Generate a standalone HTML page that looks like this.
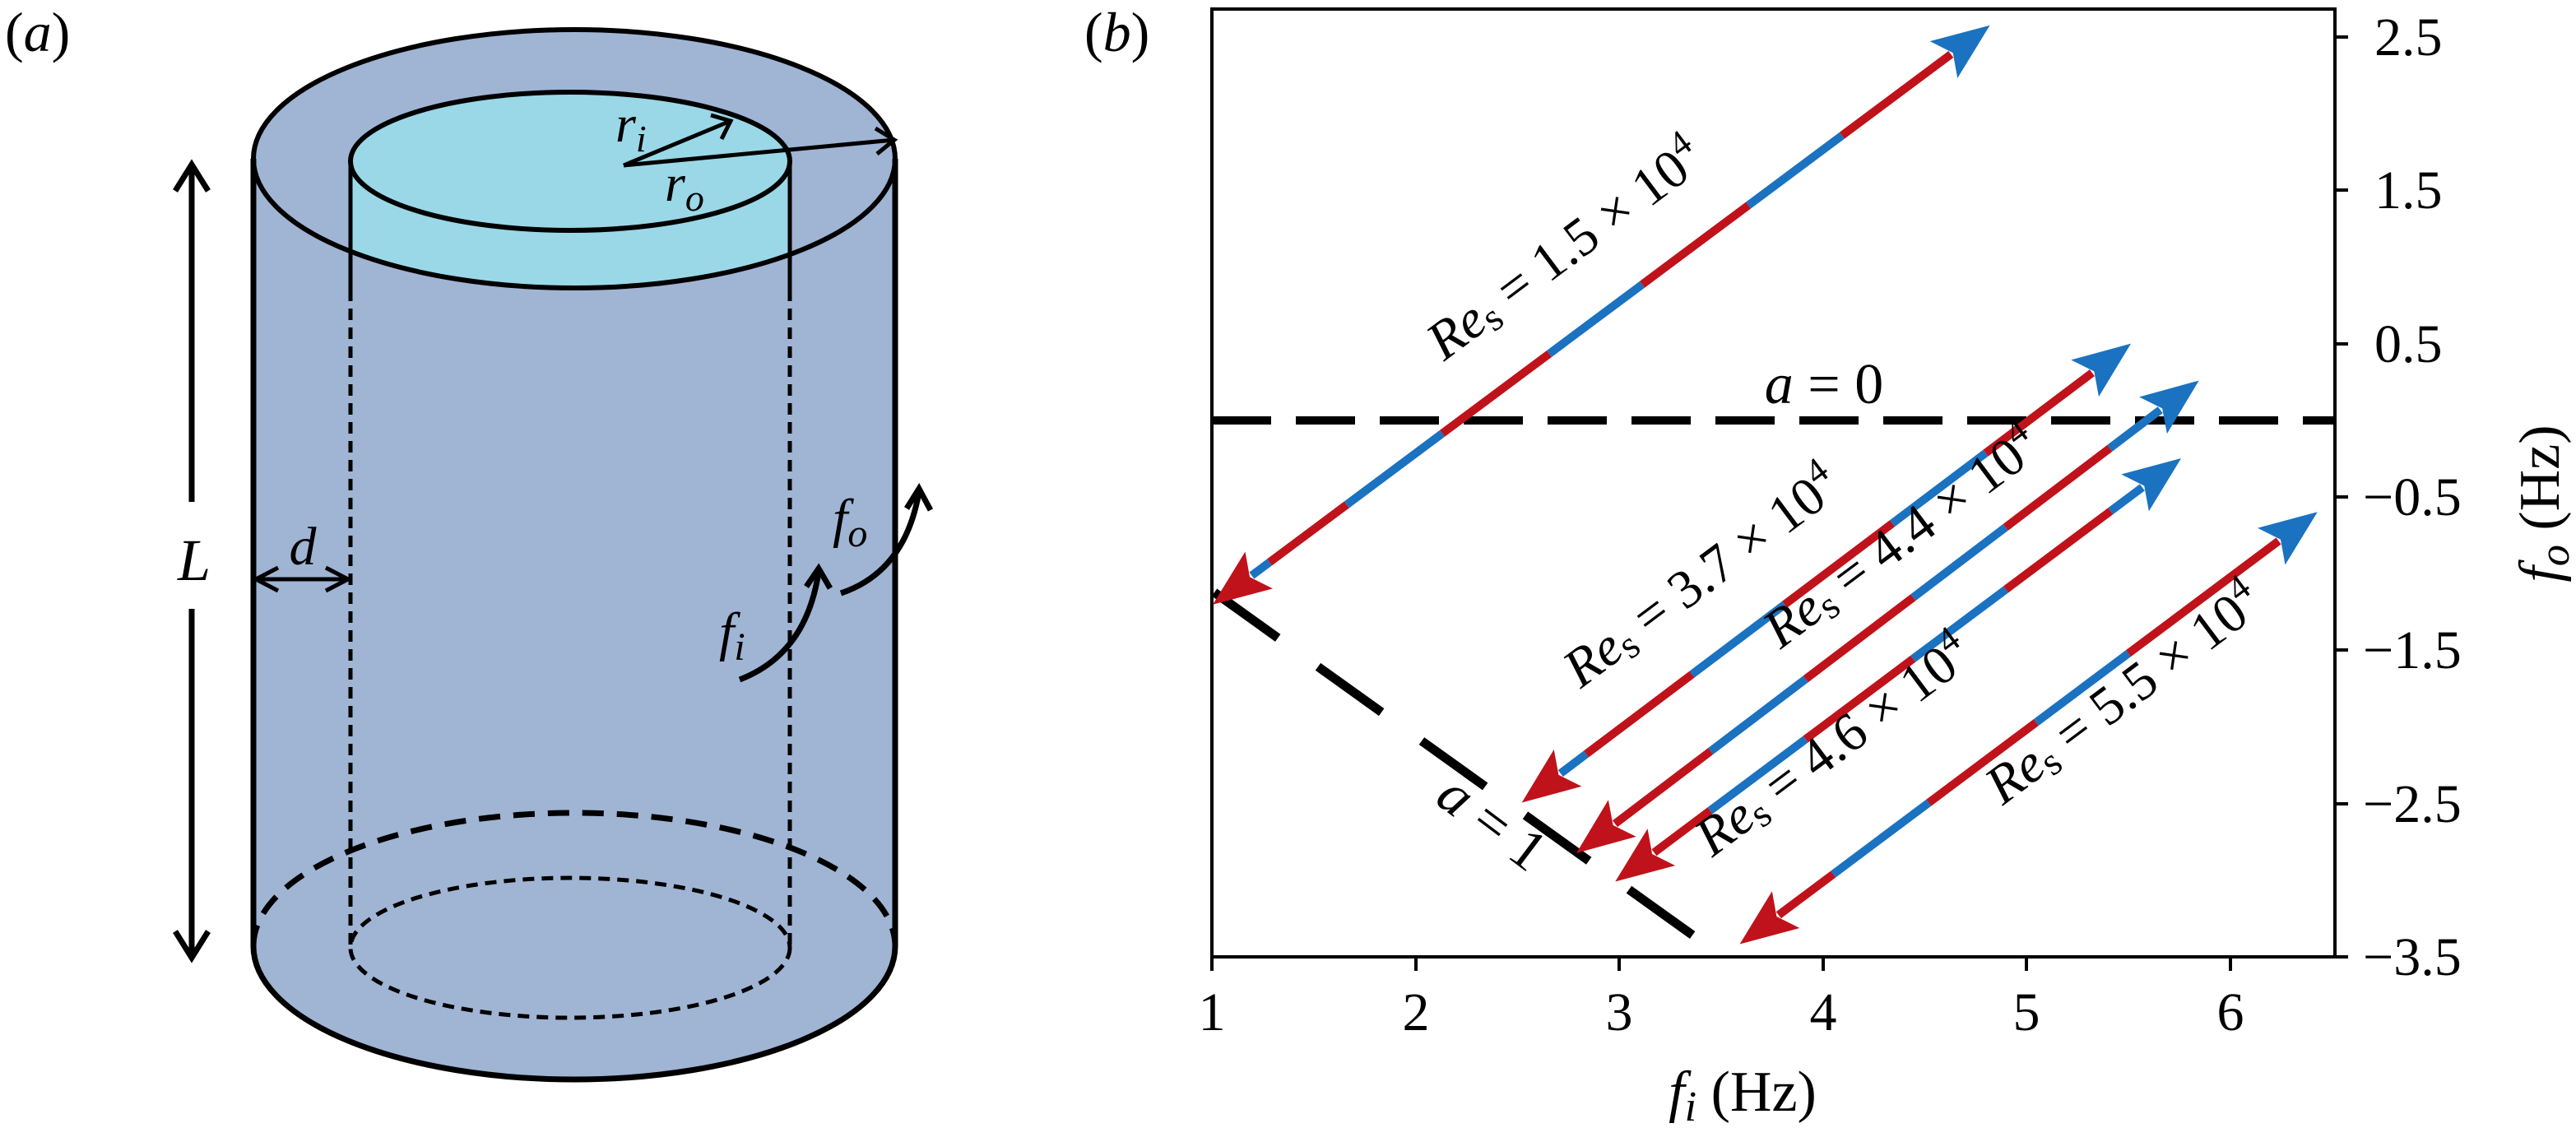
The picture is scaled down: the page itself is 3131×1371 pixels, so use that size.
<!DOCTYPE html>
<html><head><meta charset="utf-8"><style>
html,body{margin:0;padding:0;background:#fff;}
svg{display:block;}
text{font-family:"Liberation Serif","Times New Roman",serif;fill:#000;}
</style></head><body>
<svg width="3131" height="1371" viewBox="0 0 3131 1371" xmlns="http://www.w3.org/2000/svg" font-family="Liberation Serif, serif">
<defs>
<clipPath id="outerTop"><ellipse cx="698" cy="193" rx="390" ry="157"/></clipPath>
<g id="hb"><polygon points="64,0 -6,-28 8,0 -6,28" fill="#1a72c0"/></g>
<g id="hr"><polygon points="64,0 -6,-28 8,0 -6,28" fill="#c0121a"/></g>
</defs>

<!-- Panel a -->
<text x="6" y="62" font-size="68">(<tspan font-style="italic">a</tspan>)</text>
<g fill="#a0b4d4" stroke="none">
<ellipse cx="698" cy="1150" rx="390" ry="162"/>
<rect x="308" y="193" width="780" height="957"/>
<ellipse cx="698" cy="193" rx="390" ry="157"/>
</g>
<g clip-path="url(#outerTop)">
<rect x="426" y="196" width="534" height="200" fill="#9ad8e8"/>
</g>
<ellipse cx="693" cy="196" rx="267" ry="84" fill="#9ad8e8" stroke="#000" stroke-width="6"/>
<ellipse cx="698" cy="193" rx="390" ry="157" fill="none" stroke="#000" stroke-width="6"/>
<g stroke="#000" stroke-width="7" fill="none">
<line x1="308" y1="193" x2="308" y2="1150"/>
<line x1="1088" y1="193" x2="1088" y2="1150"/>
<line x1="426" y1="196" x2="426" y2="352" stroke-width="5"/>
<line x1="960" y1="196" x2="960" y2="352" stroke-width="5"/>
<path d="M308,1150 A390,162 0 0 0 1088,1150"/>
</g>
<g stroke="#000" stroke-width="5" fill="none" stroke-dasharray="14,9">
<line x1="426" y1="352" x2="426" y2="1152"/>
<line x1="960" y1="352" x2="960" y2="1152"/>
<ellipse cx="693" cy="1152" rx="267" ry="85"/>
</g>
<path d="M308,1150 A390,162 0 0 1 1088,1150" stroke="#000" stroke-width="7" fill="none" stroke-dasharray="26,16"/>
<g stroke="#000" stroke-width="5" fill="none">
<line x1="758" y1="201" x2="1087" y2="170"/>
<polyline points="1064,156 1087,170 1066,187"/>
<line x1="758" y1="201" x2="888" y2="147"/>
<polyline points="864,140 888,147 877,169"/>
</g>
<text x="748" y="172" font-size="64" font-style="italic">r<tspan font-size="46" dy="12">i</tspan></text>
<text x="808" y="244" font-size="64" font-style="italic">r<tspan font-size="46" dy="12">o</tspan></text>
<g stroke="#000" stroke-width="7" fill="none">
<line x1="233" y1="200" x2="233" y2="610"/>
<line x1="233" y1="740" x2="233" y2="1164"/>
<polyline points="213,232 233,200 253,232"/>
<polyline points="213,1132 233,1164 253,1132"/>
</g>
<text x="236" y="705" font-size="72" font-style="italic" text-anchor="middle">L</text>
<g stroke="#000" stroke-width="5" fill="none">
<line x1="311" y1="704" x2="423" y2="704"/>
<polyline points="338,690 311,704 338,718"/>
<polyline points="396,690 423,704 396,718"/>
</g>
<text x="368" y="686" font-size="66" font-style="italic" text-anchor="middle">d</text>
<g stroke="#000" stroke-width="7" fill="none">
<path d="M899,826 Q980,795 995,695"/>
<polyline points="980,713 995,691 1009,715"/>
<path d="M1022,721 Q1100,695 1117,598"/>
<polyline points="1102,618 1117,594 1131,620"/>
</g>
<text x="874" y="790" font-size="66" font-style="italic">f<tspan font-size="48" dy="12">i</tspan></text>
<text x="1012" y="652" font-size="66" font-style="italic">f<tspan font-size="48" dy="12">o</tspan></text>

<!-- Panel b -->
<text x="1318" y="62" font-size="68">(<tspan font-style="italic">b</tspan>)</text>
<rect x="1473" y="11" width="1365" height="1152" fill="none" stroke="#000" stroke-width="4"/>
<g stroke="#000" stroke-width="4">
<line x1="1473" y1="1163" x2="1473" y2="1180"/>
<line x1="1721" y1="1163" x2="1721" y2="1180"/>
<line x1="1968" y1="1163" x2="1968" y2="1180"/>
<line x1="2216" y1="1163" x2="2216" y2="1180"/>
<line x1="2463" y1="1163" x2="2463" y2="1180"/>
<line x1="2711" y1="1163" x2="2711" y2="1180"/>
<line x1="2838" y1="45" x2="2854" y2="45"/>
<line x1="2838" y1="231" x2="2854" y2="231"/>
<line x1="2838" y1="418" x2="2854" y2="418"/>
<line x1="2838" y1="604" x2="2854" y2="604"/>
<line x1="2838" y1="790" x2="2854" y2="790"/>
<line x1="2838" y1="977" x2="2854" y2="977"/>
<line x1="2838" y1="1163" x2="2854" y2="1163"/>
</g>
<g font-size="66" text-anchor="middle">
<text x="1473" y="1252">1</text><text x="1721" y="1252">2</text><text x="1968" y="1252">3</text>
<text x="2216" y="1252">4</text><text x="2463" y="1252">5</text><text x="2711" y="1252">6</text>
</g>
<g font-size="66">
<text x="2886" y="67">2.5</text><text x="2886" y="253">1.5</text><text x="2886" y="440">0.5</text>
<text x="2872" y="626">−0.5</text><text x="2872" y="812">−1.5</text><text x="2872" y="999">−2.5</text>
<text x="2872" y="1185">−3.5</text>
</g>
<text x="2118" y="1350" font-size="70" text-anchor="middle"><tspan font-style="italic">f</tspan><tspan font-style="italic" font-size="52" dy="12">i</tspan><tspan dy="-12"> (Hz)</tspan></text>
<text transform="translate(3110,612) rotate(-90)" font-size="70" text-anchor="middle"><tspan font-style="italic">f</tspan><tspan font-style="italic" font-size="52" dy="12">o</tspan><tspan dy="-12"> (Hz)</tspan></text>

<line x1="1473" y1="511" x2="2838" y2="511" stroke="#000" stroke-width="10" stroke-dasharray="72,30"/>
<line x1="1476" y1="720" x2="2062" y2="1140" stroke="#000" stroke-width="11" stroke-dasharray="95,60"/>
<text x="2217" y="490" font-size="70" text-anchor="middle"><tspan font-style="italic">a</tspan> = 0</text>
<text transform="translate(1800,1018) rotate(37)" font-size="70" text-anchor="middle"><tspan font-style="italic">a</tspan> = 1</text>

<g stroke-width="10" fill="none">
<g transform="translate(1521.4,699.5) rotate(-36.7)">
<line x1="0" y1="0" x2="27" y2="0" stroke="#1a72c0"/>
<line x1="27" y1="0" x2="144" y2="0" stroke="#c0121a"/>
<line x1="144" y1="0" x2="289" y2="0" stroke="#1a72c0"/>
<line x1="289" y1="0" x2="451" y2="0" stroke="#c0121a"/>
<line x1="451" y1="0" x2="592" y2="0" stroke="#1a72c0"/>
<line x1="592" y1="0" x2="753" y2="0" stroke="#c0121a"/>
<line x1="753" y1="0" x2="895" y2="0" stroke="#1a72c0"/>
<line x1="895" y1="0" x2="1060" y2="0" stroke="#c0121a"/>
<use href="#hb" transform="translate(1055,0)"/>
<use href="#hr" transform="translate(5,0) rotate(180)"/>
</g>
<g transform="translate(1896.8,940) rotate(-37)">
<line x1="0" y1="0" x2="39" y2="0" stroke="#1a72c0"/>
<line x1="39" y1="0" x2="200" y2="0" stroke="#c0121a"/>
<line x1="200" y1="0" x2="341" y2="0" stroke="#1a72c0"/>
<line x1="341" y1="0" x2="505" y2="0" stroke="#c0121a"/>
<line x1="505" y1="0" x2="647" y2="0" stroke="#1a72c0"/>
<line x1="647" y1="0" x2="809" y2="0" stroke="#c0121a"/>
<use href="#hb" transform="translate(804,0)"/>
<use href="#hr" transform="translate(5,0) rotate(180)"/>
</g>
<g transform="translate(1963,1001.2) rotate(-37.2)">
<line x1="0" y1="0" x2="146" y2="0" stroke="#c0121a"/>
<line x1="146" y1="0" x2="291" y2="0" stroke="#1a72c0"/>
<line x1="291" y1="0" x2="455" y2="0" stroke="#c0121a"/>
<line x1="455" y1="0" x2="596" y2="0" stroke="#1a72c0"/>
<line x1="596" y1="0" x2="755" y2="0" stroke="#c0121a"/>
<line x1="755" y1="0" x2="832" y2="0" stroke="#1a72c0"/>
<use href="#hb" transform="translate(827,0)"/>
<use href="#hr" transform="translate(5,0) rotate(180)"/>
</g>
<g transform="translate(2010.5,1036.2) rotate(-36.8)">
<line x1="0" y1="0" x2="85" y2="0" stroke="#c0121a"/>
<line x1="85" y1="0" x2="230" y2="0" stroke="#1a72c0"/>
<line x1="230" y1="0" x2="393" y2="0" stroke="#c0121a"/>
<line x1="393" y1="0" x2="534" y2="0" stroke="#1a72c0"/>
<line x1="534" y1="0" x2="693" y2="0" stroke="#c0121a"/>
<line x1="693" y1="0" x2="741" y2="0" stroke="#1a72c0"/>
<use href="#hb" transform="translate(736,0)"/>
<use href="#hr" transform="translate(5,0) rotate(180)"/>
</g>
<g transform="translate(2161.8,1112.2) rotate(-36.8)">
<line x1="0" y1="0" x2="83" y2="0" stroke="#c0121a"/>
<line x1="83" y1="0" x2="228" y2="0" stroke="#1a72c0"/>
<line x1="228" y1="0" x2="391" y2="0" stroke="#c0121a"/>
<line x1="391" y1="0" x2="531" y2="0" stroke="#1a72c0"/>
<line x1="531" y1="0" x2="759" y2="0" stroke="#c0121a"/>
<use href="#hb" transform="translate(754,0)"/>
<use href="#hr" transform="translate(5,0) rotate(180)"/>
</g>
</g>

<g font-size="66" text-anchor="middle">
<text transform="translate(1915,320) rotate(-36.8)"><tspan font-style="italic">Re</tspan><tspan font-size="48" dy="8">s</tspan><tspan dy="-8"> = 1.5 × 10</tspan><tspan font-size="44" dy="-26">4</tspan></text>
<text transform="translate(2081,718) rotate(-36.8)"><tspan font-style="italic">Re</tspan><tspan font-size="48" dy="8">s</tspan><tspan dy="-8"> = 3.7 × 10</tspan><tspan font-size="44" dy="-26">4</tspan></text>
<text transform="translate(2324,670) rotate(-36.8)"><tspan font-style="italic">Re</tspan><tspan font-size="48" dy="8">s</tspan><tspan dy="-8"> = 4.4 × 10</tspan><tspan font-size="44" dy="-26">4</tspan></text>
<text transform="translate(2241,923) rotate(-36.8)"><tspan font-style="italic">Re</tspan><tspan font-size="48" dy="8">s</tspan><tspan dy="-8"> = 4.6 × 10</tspan><tspan font-size="44" dy="-26">4</tspan></text>
<text transform="translate(2594,860) rotate(-36.8)"><tspan font-style="italic">Re</tspan><tspan font-size="48" dy="8">s</tspan><tspan dy="-8"> = 5.5 × 10</tspan><tspan font-size="44" dy="-26">4</tspan></text>
</g>
</svg>
</body></html>
